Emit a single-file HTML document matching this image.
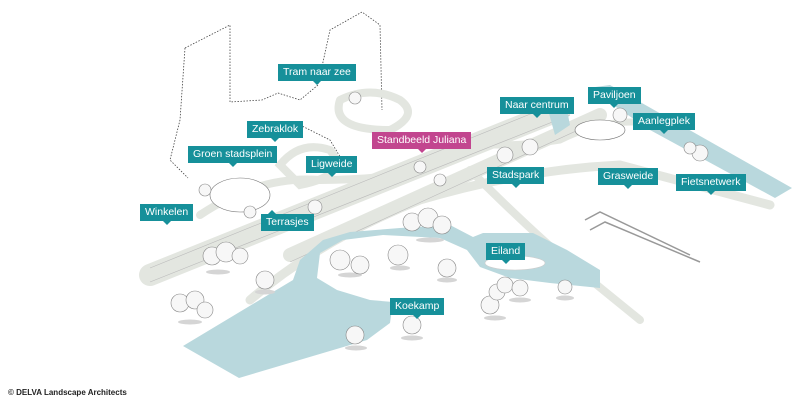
<!DOCTYPE html>
<html><head><meta charset="utf-8"><style>
html,body{margin:0;padding:0;background:#fff;}
#c{position:relative;width:800px;height:404px;overflow:hidden;font-family:"Liberation Sans",sans-serif;}
.l{position:absolute;background:#16909a;color:#fff;font-size:10.5px;line-height:17px;height:17px;padding:0 5px;white-space:nowrap;}
.l:after{content:"";position:absolute;left:50%;margin-left:-4px;bottom:-4px;border-left:4px solid transparent;border-right:4px solid transparent;border-top:4px solid #16909a;}
.l.m{background:#c2468f}.l.m:after{border-top-color:#c2468f}
.l.u:after{bottom:auto;top:-4px;border-top:none;border-bottom:4px solid #16909a;left:20%}
.cp{position:absolute;left:8px;top:388px;font-size:8px;font-weight:bold;color:#222;}
</style></head><body><div id="c">
<svg width="800" height="404" style="position:absolute;left:0;top:0">
<g fill="none" stroke="#444" stroke-width="0.8" stroke-dasharray="1.5,1.5">
<path d="M185,48 L230,25 L230,102 L262,100 L278,93 L300,100 L318,85 L330,30 L362,12 L380,25 L382,110 M185,48 L180,120 L170,160 L188,178 M300,125 L330,140 L345,165"/>
</g>
<g fill="none" stroke="#e3e6e0" stroke-linecap="round">
<path d="M150,275 L560,110" stroke-width="22"/>
<path d="M290,255 L600,115" stroke-width="14"/>
<path d="M250,300 Q320,240 420,200 Q520,170 620,165 L770,205" stroke-width="9"/>
<path d="M470,170 Q520,220 560,255 L640,320" stroke-width="8"/>
<path d="M430,140 Q500,150 560,140 Q620,110 680,130" stroke-width="7"/>
<path d="M200,215 Q260,175 320,180 Q360,180 400,175" stroke-width="8"/>
<path d="M340,100 Q330,130 390,130 Q420,115 400,100 Q370,85 340,100" stroke-width="8"/>
<path d="M280,165 Q300,140 330,150 Q350,175 300,185 Z" stroke-width="8"/>
</g>
<g fill="none" stroke="#bbb" stroke-width="0.6">
<path d="M150,268 L560,102 M150,282 L570,115 M290,262 L600,120"/>
</g>
<g fill="#b9d8dd">
<path d="M183,346 L239,378 L367,340 L390,323 L393,302 L370,300 L337,290 L317,278 L320,253 L343,240 L383,235 L440,238 L467,250 L480,267 L510,278 L550,283 L600,288 L600,270 L567,250 L533,233 L483,233 L473,237 L450,225 L400,228 L350,232 L323,240 L300,260 L293,280 Z"/>
<path d="M588,88 L610,85 L792,188 L775,198 L650,130 Z"/>
<path d="M548,110 L565,100 L570,125 L555,135 Z"/>
</g>
<ellipse cx="515" cy="263" rx="30" ry="7" fill="#fff" stroke="#ccc" stroke-width="0.6"/>
<g fill="#fff" stroke="#777" stroke-width="0.6">
<ellipse cx="240" cy="195" rx="30" ry="17"/>
<ellipse cx="600" cy="130" rx="25" ry="10"/>
</g>
<g fill="#d5d5d5">
<ellipse cx="218" cy="272" rx="12" ry="2.5"/><ellipse cx="265" cy="292" rx="10" ry="2.5"/><ellipse cx="190" cy="322" rx="12" ry="2.5"/>
<ellipse cx="350" cy="275" rx="12" ry="2.5"/><ellipse cx="400" cy="268" rx="10" ry="2.5"/><ellipse cx="430" cy="240" rx="14" ry="2.5"/>
<ellipse cx="447" cy="280" rx="10" ry="2.5"/><ellipse cx="412" cy="338" rx="11" ry="2.5"/><ellipse cx="356" cy="348" rx="11" ry="2.5"/>
<ellipse cx="495" cy="318" rx="11" ry="2.5"/><ellipse cx="520" cy="300" rx="11" ry="2.5"/><ellipse cx="565" cy="298" rx="9" ry="2.5"/>
</g>
<g fill="#f7f7f7" stroke="#888" stroke-width="0.6">
<circle cx="212" cy="256" r="9"/><circle cx="226" cy="252" r="10"/><circle cx="240" cy="256" r="8"/><circle cx="265" cy="280" r="9"/>
<circle cx="180" cy="303" r="9"/><circle cx="195" cy="300" r="9"/><circle cx="205" cy="310" r="8"/><circle cx="340" cy="260" r="10"/>
<circle cx="360" cy="265" r="9"/><circle cx="398" cy="255" r="10"/><circle cx="412" cy="222" r="9"/><circle cx="428" cy="218" r="10"/>
<circle cx="442" cy="225" r="9"/><circle cx="447" cy="268" r="9"/><circle cx="412" cy="325" r="9"/>
<circle cx="355" cy="335" r="9"/><circle cx="490" cy="305" r="9"/><circle cx="497" cy="292" r="8"/><circle cx="505" cy="285" r="8"/>
<circle cx="520" cy="288" r="8"/><circle cx="565" cy="287" r="7"/><circle cx="315" cy="207" r="7"/><circle cx="600" cy="238" r="0"/>
<circle cx="700" cy="153" r="8"/><circle cx="690" cy="148" r="6"/><circle cx="530" cy="147" r="8"/><circle cx="505" cy="155" r="8"/>
<circle cx="620" cy="115" r="7"/><circle cx="440" cy="180" r="6"/><circle cx="205" cy="190" r="6"/><circle cx="340" cy="290" r="0"/>
<circle cx="420" cy="167" r="6"/><circle cx="355" cy="98" r="6"/><circle cx="250" cy="212" r="6"/>
</g>
<g fill="none" stroke="#999" stroke-width="1.5"><path d="M585,220 L600,212 L690,255 M590,230 L605,222 L700,262"/></g>
</svg>
<div class="l" style="left:278px;top:64px">Tram naar zee</div>
<div class="l" style="left:247px;top:121px">Zebraklok</div>
<div class="l" style="left:188px;top:146px">Groen stadsplein</div>
<div class="l" style="left:306px;top:156px">Ligweide</div>
<div class="l m" style="left:372px;top:132px">Standbeeld Juliana</div>
<div class="l" style="left:140px;top:204px">Winkelen</div>
<div class="l u" style="left:261px;top:214px">Terrasjes</div>
<div class="l" style="left:500px;top:97px">Naar centrum</div>
<div class="l" style="left:588px;top:87px">Paviljoen</div>
<div class="l" style="left:633px;top:113px">Aanlegplek</div>
<div class="l" style="left:487px;top:167px">Stadspark</div>
<div class="l" style="left:598px;top:168px">Grasweide</div>
<div class="l" style="left:676px;top:174px">Fietsnetwerk</div>
<div class="l" style="left:486px;top:243px">Eiland</div>
<div class="l" style="left:390px;top:298px">Koekamp</div>
<div class="cp">© DELVA Landscape Architects</div>
</div></body></html>
